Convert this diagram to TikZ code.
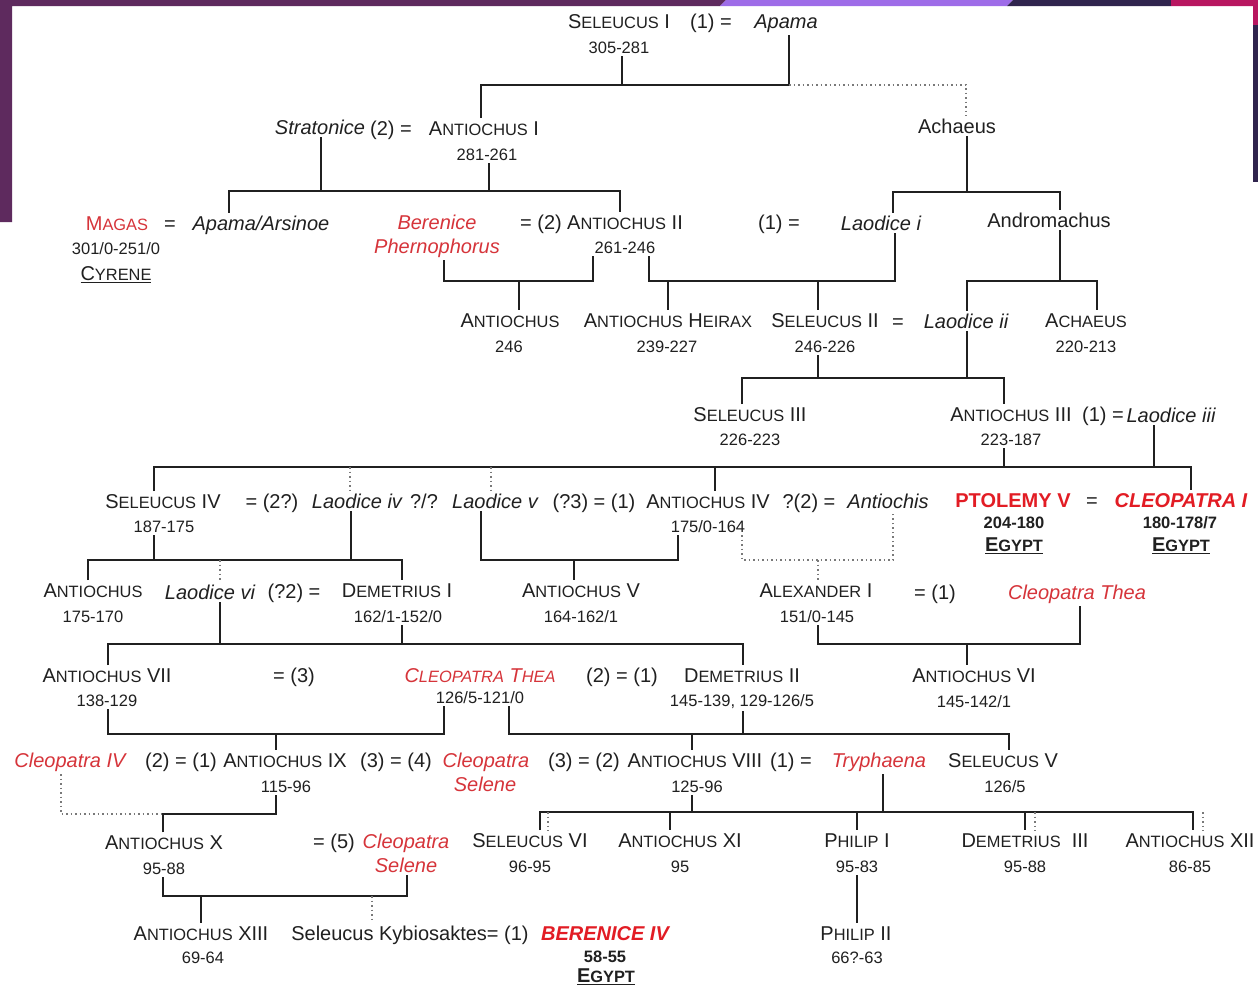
\documentclass[tikz,border=0pt]{standalone}
\usepackage{fontspec}
\setmainfont{Liberation Sans}
\definecolor{ink}{RGB}{32,32,32}
\definecolor{redA}{RGB}{214,52,58}
\definecolor{redB}{RGB}{226,28,36}
\definecolor{purp}{RGB}{94,42,94}
\definecolor{viol}{RGB}{158,108,232}
\definecolor{navy}{RGB}{48,36,78}
\definecolor{mag}{RGB}{184,22,96}
\newcommand\sm[1]{{\fontsize{16.4}{18}\selectfont #1}}
\newcommand\ulx[1]{\sbox0{#1}\rlap{\rule[-3pt]{\wd0}{1.3pt}}\usebox0}
\begin{document}
\begin{tikzpicture}[x=1pt,y=-1pt,
 nm/.style={anchor=base,inner sep=0pt,outer xsep=0pt,outer ysep=3pt,text=ink,font=\fontsize{20}{24}\selectfont},
 dt/.style={nm,font=\fontsize{16.5}{20}\selectfont},
 it/.style={nm,font=\fontsize{20}{24}\selectfont\itshape},
 rit/.style={it,text=redA},
 rsc/.style={nm,text=redA},
 rbf/.style={nm,text=redB,font=\fontsize{20}{24}\selectfont\bfseries},
 rbi/.style={nm,text=redB,font=\fontsize{20}{24}\selectfont\bfseries\itshape},
 bdt/.style={nm,font=\fontsize{16.5}{20}\selectfont\bfseries},
 ln/.style={draw=ink,line width=1.8pt},
 dl/.style={draw=ink!60,line width=1.5pt,dash pattern=on 1.5pt off 3pt},
]
\useasboundingbox (0,0) rectangle (1258,988);
% frame
\fill[white] (0,0) rectangle (1258,988);
\fill[purp] (0,0) -- (726,0) -- (720,6) -- (12,6) -- (12,222) -- (0,222) -- cycle;
\fill[viol] (726,0) -- (1013,0) -- (1007,6) -- (720,6) -- cycle;
\fill[navy] (1013,0) -- (1171,0) -- (1171,6) -- (1007,6) -- cycle;
\fill[mag] (1171,0) -- (1258,0) -- (1258,25) -- (1253,25) -- (1253,6) -- (1171,6) -- cycle;
\fill[navy] (1253,25) rectangle (1258,182);

% ---------- row 1
\node[nm] (sel1) at (619,28) {S\sm{ELEUCUS} I};
\node[nm] (eq1) at (711,28) {(1) =};
\node[it] (apama) at (786,28) {Apama};
\node[dt] (sel1d) at (619,53) {305-281};
% ---------- row 2
\node[it] (strat) at (320,134) {Stratonice};
\node[nm] (eq2) at (391,135) {(2) =};
\node[nm] (ant1) at (484,135) {A\sm{NTIOCHUS} I};
\node[dt] (ant1d) at (487,160) {281-261};
\node[nm] (achaeus) at (957,133) {Achaeus};
% ---------- row 3
\node[rsc] (magas) at (117,230) {M\sm{AGAS}};
\node[nm] (eq3) at (170,230) {=};
\node[it] (apars) at (261,230) {Apama/Arsinoe};
\node[dt] (magasd) at (116,254) {301/0-251/0};
\node[nm] (cyrene) at (116,280) {\ulx{C\sm{YRENE}}};
\node[rit] (beren) at (437,229) {Berenice};
\node[rit] (phern) at (437,253) {Phernophorus};
\node[nm] (eq4) at (541,229) {= (2)};
\node[nm] (ant2) at (625,229) {A\sm{NTIOCHUS} II};
\node[dt] (ant2d) at (625,253) {261-246};
\node[nm] (eq5) at (779,229) {(1) =};
\node[it] (laod1) at (881,230) {Laodice i};
\node[nm] (andro) at (1049,227) {Andromachus};
% ---------- row 4
\node[nm] (antb) at (510,327) {A\sm{NTIOCHUS}};
\node[dt] (antbd) at (509,352) {246};
\node[nm] (heirax) at (668,327) {A\sm{NTIOCHUS} H\sm{EIRAX}};
\node[dt] (heiraxd) at (667,352) {239-227};
\node[nm] (sel2) at (825,327) {S\sm{ELEUCUS} II};
\node[dt] (sel2d) at (825,352) {246-226};
\node[nm] (eq6) at (898,328) {=};
\node[it] (laod2) at (966,328) {Laodice ii};
\node[nm] (achaeus2) at (1086,327) {A\sm{CHAEUS}};
\node[dt] (achd) at (1086,352) {220-213};
% ---------- row 5
\node[nm] (sel3) at (750,421) {S\sm{ELEUCUS} III};
\node[dt] (sel3d) at (750,445) {226-223};
\node[nm] (ant3) at (1011,421) {A\sm{NTIOCHUS} III};
\node[dt] (ant3d) at (1011,445) {223-187};
\node[nm] (eq7) at (1103,421) {(1) =};
\node[it] (laod3) at (1171,422) {Laodice iii};
% ---------- row 6
\node[nm] (sel4) at (163,508) {S\sm{ELEUCUS} IV};
\node[dt] (sel4d) at (164,532) {187-175};
\node[nm] (eq8) at (272,508) {= (2?)};
\node[it] (laod4) at (357,508) {Laodice iv};
\node[nm] (qq) at (424,508) {?/?};
\node[it] (laod5) at (495,508) {Laodice v};
\node[nm] (eq9) at (594,508) {(?3) = (1)};
\node[nm] (ant4) at (708,508) {A\sm{NTIOCHUS} IV};
\node[dt] (ant4d) at (708,532) {175/0-164};
\node[nm] (eq10) at (809,508) {?(2) =};
\node[it] (antis) at (888,508) {Antiochis};
\node[rbf] (ptol) at (1013,507) {PTOLEMY V};
\node[nm] (eq11) at (1092,507) {=};
\node[rbi] (cleo1) at (1181,507) {CLEOPATRA I};
\node[bdt] (ptold) at (1014,528) {204-180};
\node[bdt] (cleo1d) at (1180,528) {180-178/7};
\node[nm,font=\fontsize{20}{24}\selectfont\bfseries] (egy1) at (1014,551) {\ulx{E\sm{GYPT}}};
\node[nm,font=\fontsize{20}{24}\selectfont\bfseries] (egy2) at (1181,551) {\ulx{E\sm{GYPT}}};
% ---------- row 7
\node[nm] (antc) at (93,597) {A\sm{NTIOCHUS}};
\node[dt] (antcd) at (93,622) {175-170};
\node[it] (laod6) at (210,599) {Laodice vi};
\node[nm] (eq12) at (294,598) {(?2) =};
\node[nm] (dem1) at (397,597) {D\sm{EMETRIUS} I};
\node[dt] (dem1d) at (398,622) {162/1-152/0};
\node[nm] (ant5) at (581,597) {A\sm{NTIOCHUS} V};
\node[dt] (ant5d) at (581,622) {164-162/1};
\node[nm] (alex) at (816,597) {A\sm{LEXANDER} I};
\node[dt] (alexd) at (817,622) {151/0-145};
\node[nm] (eq13) at (935,599) {= (1)};
\node[rit] (cthea) at (1077,599) {Cleopatra Thea};
% ---------- row 8
\node[nm] (ant7) at (107,682) {A\sm{NTIOCHUS} VII};
\node[dt] (ant7d) at (107,706) {138-129};
\node[nm] (eq14) at (294,682) {= (3)};
\node[rit] (ct) at (480,682) {C\sm{LEOPATRA} T\sm{HEA}};
\node[dt] (ctd) at (480,703) {126/5-121/0};
\node[nm] (eq15) at (622,682) {(2) = (1)};
\node[nm] (dem2) at (742,682) {D\sm{EMETRIUS} II};
\node[dt] (dem2d) at (742,706) {145-139, 129-126/5};
\node[nm] (ant6) at (974,682) {A\sm{NTIOCHUS} VI};
\node[dt] (ant6d) at (974,707) {145-142/1};
% ---------- row 9
\node[rit] (cleo4) at (70,767) {Cleopatra IV};
\node[nm] (eq16) at (181,767) {(2) = (1)};
\node[nm] (ant9) at (285,767) {A\sm{NTIOCHUS} IX};
\node[dt] (ant9d) at (286,792) {115-96};
\node[nm] (eq17) at (396,767) {(3) = (4)};
\node[rit] (cs1) at (486,767) {Cleopatra};
\node[rit] (cs1b) at (485,791) {Selene};
\node[nm] (eq18) at (584,767) {(3) = (2)};
\node[nm] (ant8) at (695,767) {A\sm{NTIOCHUS} VIII};
\node[dt] (ant8d) at (697,792) {125-96};
\node[nm] (eq19) at (791,767) {(1) =};
\node[rit] (tryph) at (879,767) {Tryphaena};
\node[nm] (sel5) at (1003,767) {S\sm{ELEUCUS} V};
\node[dt] (sel5d) at (1005,792) {126/5};
% ---------- row 10
\node[nm] (ant10) at (164,849) {A\sm{NTIOCHUS} X};
\node[dt] (ant10d) at (164,874) {95-88};
\node[nm] (eq20) at (334,848) {= (5)};
\node[rit] (cs2) at (406,848) {Cleopatra};
\node[rit] (cs2b) at (406,872) {Selene};
\node[nm] (sel6) at (530,847) {S\sm{ELEUCUS} VI};
\node[dt] (sel6d) at (530,872) {96-95};
\node[nm] (ant11) at (680,847) {A\sm{NTIOCHUS} XI};
\node[dt] (ant11d) at (680,872) {95};
\node[nm] (phil1) at (857,847) {P\sm{HILIP} I};
\node[dt] (phil1d) at (857,872) {95-83};
\node[nm] (dem3) at (1025,847) {D\sm{EMETRIUS}\ \ III};
\node[dt] (dem3d) at (1025,872) {95-88};
\node[nm] (ant12) at (1190,847) {A\sm{NTIOCHUS} XII};
\node[dt] (ant12d) at (1190,872) {86-85};
% ---------- row 11
\node[nm] (ant13) at (201,940) {A\sm{NTIOCHUS} XIII};
\node[dt] (ant13d) at (203,963) {69-64};
\node[nm] (kyb) at (410,940) {Seleucus Kybiosaktes= (1)};
\node[rbi] (ber4) at (605,940) {BERENICE IV};
\node[bdt] (ber4d) at (605,962) {58-55};
\node[nm,font=\fontsize{20}{24}\selectfont\bfseries] (egy3) at (606,982) {\ulx{E\sm{GYPT}}};
\node[nm] (phil2) at (856,940) {P\sm{HILIP} II};
\node[dt] (phil2d) at (857,963) {66?-63};

% ================= connectors
% F1
\coordinate (f1a) at (481,85); \coordinate (f1b) at (622,85);
\coordinate (f1c) at (789,85); \coordinate (f1d) at (966,85);
\draw[ln] (f1a |- ant1.north) -- (f1a) -- (f1c) -- (f1c |- apama.south);
\draw[ln] (f1b |- sel1d.south) -- (f1b);
\draw[dl] (f1c) -- (f1d) -- (f1d |- achaeus.north);
% F2
\coordinate (f2a) at (229,191); \coordinate (f2b) at (321,191);
\coordinate (f2c) at (489,191); \coordinate (f2d) at (620,191);
\draw[ln] (f2a |- apars.north) -- (f2a) -- (f2d) -- (f2d |- ant2.north);
\draw[ln] (f2b |- strat.south) -- (f2b);
\draw[ln] (f2c |- ant1d.south) -- (f2c);
% F3
\coordinate (f3a) at (893,192); \coordinate (f3b) at (967,192); \coordinate (f3c) at (1060,192);
\draw[ln] (f3a |- laod1.north) -- (f3a) -- (f3c) -- (f3c |- andro.north);
\draw[ln] (f3b |- achaeus.south) -- (f3b);
% F4
\coordinate (f4a) at (444,281); \coordinate (f4b) at (519,281); \coordinate (f4c) at (593,281);
\draw[ln] (f4a |- phern.south) -- (f4a) -- (f4c) -- (f4c |- ant2d.south);
\draw[ln] (f4b) -- (f4b |- antb.north);
% F5
\coordinate (f5a) at (649,281); \coordinate (f5b) at (668,281);
\coordinate (f5c) at (818,281); \coordinate (f5d) at (895,281);
\draw[ln] (f5a |- ant2d.south) -- (f5a) -- (f5d) -- (f5d |- laod1.south);
\draw[ln] (f5b) -- (f5b |- heirax.north);
\draw[ln] (f5c) -- (f5c |- sel2.north);
% F6
\coordinate (f6a) at (967,281); \coordinate (f6b) at (1060,281); \coordinate (f6c) at (1097,281);
\draw[ln] (f6a |- laod2.north) -- (f6a) -- (f6c) -- (f6c |- achaeus2.north);
\draw[ln] (f6b |- andro.south) -- (f6b);
% F7
\coordinate (f7a) at (742,378); \coordinate (f7b) at (818,378);
\coordinate (f7c) at (967,378); \coordinate (f7d) at (1004,378);
\draw[ln] (f7a |- sel3.north) -- (f7a) -- (f7d) -- (f7d |- ant3.north);
\draw[ln] (f7b |- sel2d.south) -- (f7b);
\draw[ln] (f7c |- laod2.south) -- (f7c);
% F8
\coordinate (f8a) at (154,467); \coordinate (f8b) at (350,467); \coordinate (f8c) at (491,467);
\coordinate (f8d) at (715,467); \coordinate (f8e) at (1004,467); \coordinate (f8f) at (1154,467);
\coordinate (f8g) at (1191,467);
\draw[ln] (f8a |- sel4.north) -- (f8a) -- (f8g) -- (f8g |- cleo1.north);
\draw[ln] (f8d) -- (f8d |- ant4.north);
\draw[ln] (f8e |- ant3d.south) -- (f8e);
\draw[ln] (f8f |- laod3.south) -- (f8f);
\draw[dl] (f8b) -- (f8b |- laod4.north);
\draw[dl] (f8c) -- (f8c |- laod5.north);
% F9
\coordinate (f9a) at (88,560); \coordinate (f9b) at (154,560); \coordinate (f9c) at (220,560);
\coordinate (f9d) at (351,560); \coordinate (f9e) at (402,560);
\draw[ln] (f9a |- antc.north) -- (f9a) -- (f9e) -- (f9e |- dem1.north);
\draw[ln] (f9b |- sel4d.south) -- (f9b);
\draw[ln] (f9d |- laod4.south) -- (f9d);
\draw[dl] (f9c) -- (f9c |- laod6.north);
% F10
\coordinate (f10a) at (481,560); \coordinate (f10b) at (574,560); \coordinate (f10c) at (678,560);
\draw[ln] (f10a |- laod5.south) -- (f10a) -- (f10c) -- (f10c |- ant4d.south);
\draw[ln] (f10b) -- (f10b |- ant5.north);
% F11 (dotted)
\coordinate (f11a) at (742,560); \coordinate (f11b) at (818,560); \coordinate (f11c) at (893,560);
\draw[dl] (f11a |- ant4d.south) -- (f11a) -- (f11c) -- (f11c |- antis.south);
\draw[dl] (f11b) -- (f11b |- alex.north);
% F12
\coordinate (f12a) at (108,644); \coordinate (f12b) at (220,644);
\coordinate (f12c) at (402,644); \coordinate (f12d) at (743,644);
\draw[ln] (f12a |- ant7.north) -- (f12a) -- (f12d) -- (f12d |- dem2.north);
\draw[ln] (f12b |- laod6.south) -- (f12b);
\draw[ln] (f12c |- dem1d.south) -- (f12c);
% F13
\coordinate (f13a) at (818,644); \coordinate (f13b) at (967,644); \coordinate (f13c) at (1080,644);
\draw[ln] (f13a |- alexd.south) -- (f13a) -- (f13c) -- (f13c |- cthea.south);
\draw[ln] (f13b) -- (f13b |- ant6.north);
% F14
\coordinate (f14a) at (108,734); \coordinate (f14b) at (276,734); \coordinate (f14c) at (444,734);
\draw[ln] (f14a |- ant7d.south) -- (f14a) -- (f14c) -- (f14c |- ctd.south);
\draw[ln] (f14b) -- (f14b |- ant9.north);
% F15
\coordinate (f15a) at (509,734); \coordinate (f15b) at (692,734);
\coordinate (f15c) at (743,734); \coordinate (f15d) at (1009,734);
\draw[ln] (f15a |- ctd.south) -- (f15a) -- (f15d) -- (f15d |- sel5.north);
\draw[ln] (f15b) -- (f15b |- ant8.north);
\draw[ln] (f15c |- dem2d.south) -- (f15c);
% F16
\coordinate (f16a) at (61,814); \coordinate (f16b) at (163,814); \coordinate (f16c) at (276,814);
\draw[dl] (f16a |- cleo4.south) -- (f16a) -- (f16b);
\draw[ln] (f16b |- ant10.north) -- (f16b) -- (f16c) -- (f16c |- ant9d.south);
% F17
\coordinate (f17a) at (540,812); \coordinate (f17a2) at (548,812);
\coordinate (f17b) at (670,812); \coordinate (f17c) at (692,812);
\coordinate (f17d) at (857,812); \coordinate (f17e) at (883,812);
\coordinate (f17f) at (1025,812); \coordinate (f17f2) at (1035,812);
\coordinate (f17g) at (1193,812); \coordinate (f17g2) at (1203,812);
\draw[ln] (f17a |- sel6.north) -- (f17a) -- (f17g) -- (f17g |- ant12.north);
\draw[ln] (f17b) -- (f17b |- ant11.north);
\draw[ln] (f17c |- ant8d.south) -- (f17c);
\draw[ln] (f17d) -- (f17d |- phil1.north);
\draw[ln] (f17e |- tryph.south) -- (f17e);
\draw[ln] (f17f) -- (f17f |- dem3.north);
\draw[dl] (f17a2) -- (f17a2 |- sel6.north);
\draw[dl] (f17f2) -- (f17f2 |- dem3.north);
\draw[dl] (f17g2) -- (f17g2 |- ant12.north);
% F18
\coordinate (f18a) at (163,896); \coordinate (f18b) at (201,896);
\coordinate (f18c) at (372,896); \coordinate (f18d) at (407,896);
\draw[ln] (f18a |- ant10d.south) -- (f18a) -- (f18d) -- (f18d |- cs2b.south);
\draw[ln] (f18b) -- (f18b |- ant13.north);
\draw[dl] (f18c) -- (f18c |- kyb.north);
% F19
\draw[ln] (phil1d.south) -- (phil1d.south |- phil2.north);
\end{tikzpicture}
\end{document}
